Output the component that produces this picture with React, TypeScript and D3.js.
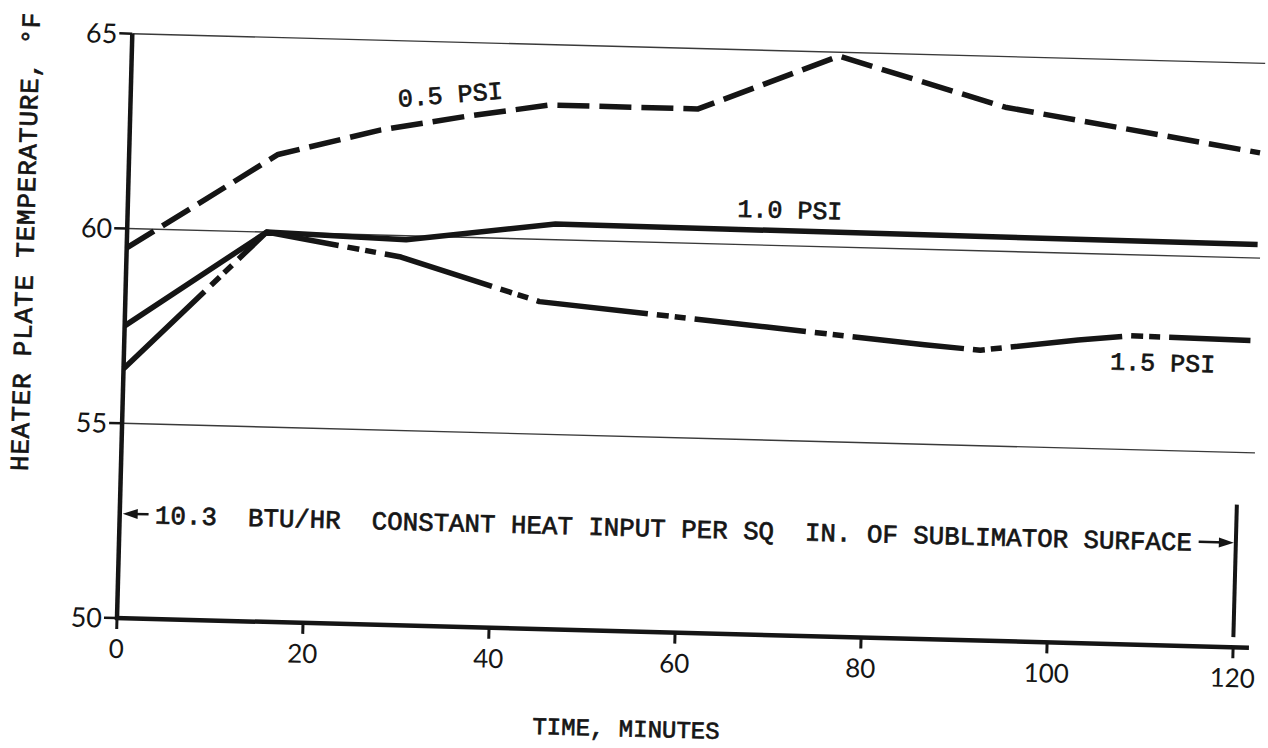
import { useRef, useEffect } from "react";
import * as d3 from "d3";

// values (minutes, deg F)
const minutes05 = [0, 16, 27, 36, 45, 61, 76, 94, 121.5];
const temps05 = [59.5, 62.0, 62.7, 63.1, 63.45, 63.45, 64.9, 63.7, 62.7];
const minutes10 = [0, 15, 30, 46, 121.5];
const temps10 = [57.5, 60.0, 59.9, 60.4, 60.35];
const minutes15 = [0, 15, 29.5, 44.5, 69, 86, 92, 102.5, 108, 121];
const temps15 = [56.4, 60.0, 59.45, 58.4, 57.9, 57.55, 57.45, 57.78, 57.92, 57.88];

const xTicks = [0, 20, 40, 60, 80, 100, 120];
const yTicks = [50, 55, 60, 65];
const gridTemps = [55, 60, 65];

const seriesNames = ["0.5 PSI", "1.0 PSI", "1.5 PSI"];
const nameMinutes = [28.8, 65.5, 106];
const nameTemps = [63.3, 60.71, 57.04];

const note = "10.3  BTU/HR  CONSTANT HEAT INPUT PER SQ  IN. OF SUBLIMATOR SURFACE";

export default function App() {
  const ref = useRef<SVGSVGElement>(null);

  useEffect(() => {
    if (!ref.current) return;
    const svg = d3.select(ref.current);
    svg.selectAll("*").remove();

    const W = 1268,
      H = 748;
    svg.attr("width", W).attr("height", H).attr("viewBox", `0 0 ${W} ${H}`);
    svg.append("rect").attr("width", W).attr("height", H).attr("fill", "#fff");

    const ink = "#151515";
    const mono = "'Liberation Mono', 'DejaVu Sans Mono', monospace";
    const sans = "Lato, 'Liberation Sans', sans-serif";

    const x = d3.scaleLinear().domain([0, 120]).range([0, 1116.5]);
    const y = d3.scaleLinear().domain([50, 65]).range([0, -584.5]);

    // the scan is tilted a little clockwise
    const g = svg.append("g").attr("transform", "translate(117,618) rotate(1.5)");

    g.selectAll("line.grid")
      .data(gridTemps)
      .join("line")
      .attr("class", "grid")
      .attr("x1", 0)
      .attr("x2", x(121.8))
      .attr("y1", (d) => y(d))
      .attr("y2", (d) => y(d))
      .attr("stroke", "#3a3a3a")
      .attr("stroke-width", 1.4);

    // axes
    g.append("line")
      .attr("x1", 0)
      .attr("x2", 0)
      .attr("y1", y(50) + 2)
      .attr("y2", y(65))
      .attr("stroke", ink)
      .attr("stroke-width", 4.5);
    g.append("line")
      .attr("x1", -2)
      .attr("x2", x(121.7))
      .attr("y1", y(50))
      .attr("y2", y(50))
      .attr("stroke", ink)
      .attr("stroke-width", 4.5);

    g.selectAll("line.ytick")
      .data(yTicks)
      .join("line")
      .attr("class", "ytick")
      .attr("x1", -13)
      .attr("x2", 0)
      .attr("y1", (d) => y(d))
      .attr("y2", (d) => y(d))
      .attr("stroke", ink)
      .attr("stroke-width", 2.5);
    g.selectAll("text.ylab")
      .data(yTicks)
      .join("text")
      .attr("class", "ylab")
      .attr("x", -15)
      .attr("y", (d) => y(d))
      .attr("dy", "0.36em")
      .attr("text-anchor", "end")
      .attr("font-family", sans)
      .attr("font-size", 27)
      .attr("fill", ink)
      .text((d) => d);

    g.selectAll("line.xtick")
      .data(xTicks)
      .join("line")
      .attr("class", "xtick")
      .attr("x1", (d) => x(d))
      .attr("x2", (d) => x(d))
      .attr("y1", 0)
      .attr("y2", 11)
      .attr("stroke", ink)
      .attr("stroke-width", 3);
    g.selectAll("text.xlab")
      .data(xTicks)
      .join("text")
      .attr("class", "xlab")
      .attr("x", (d) => x(d))
      .attr("y", 40)
      .attr("text-anchor", "middle")
      .attr("font-family", sans)
      .attr("font-size", 26)
      .attr("fill", ink)
      .text((d) => d);

    // series
    const line = d3
      .line<[number, number]>()
      .x((d) => x(d[0]))
      .y((d) => y(d[1]));
    const series = [
      { pts: d3.zip(minutes05, temps05), dash: "32 10" },
      { pts: d3.zip(minutes10, temps10), dash: null },
      { pts: d3.zip(minutes15, temps15), dash: "112 9 12 6 11 9" },
    ];
    g.selectAll("path.series")
      .data(series)
      .join("path")
      .attr("class", "series")
      .attr("d", (d) => line(d.pts as [number, number][]))
      .attr("fill", "none")
      .attr("stroke", ink)
      .attr("stroke-width", 5.5)
      .attr("stroke-linejoin", "round")
      .attr("stroke-dasharray", (d) => d.dash);

    // typewriter lettering: regular face with a thin outline to thicken it
    const typed = (sel: any, size: number) =>
      sel
        .attr("font-family", mono)
        .attr("font-size", size)
        .attr("fill", ink)
        .attr("stroke", ink)
        .attr("stroke-width", 0.7);

    typed(
      g
        .selectAll("text.sname")
        .data(seriesNames)
        .join("text")
        .attr("class", "sname")
        .attr("transform", (d, i) => {
          const tx = x(nameMinutes[i]),
            ty = y(nameTemps[i]);
          return `translate(${tx},${ty}) rotate(${i === 0 ? -6 : 0})`;
        }),
      25
    ).text((d) => d);

    // constant heat input note with its two arrows
    typed(
      g
        .append("text")
        .attr("x", x(3.8))
        .attr("y", y(52.45))
        .attr("xml:space", "preserve")
        .style("white-space", "pre"),
      25.8
    ).text(note);

    const ay = y(52.68);
    const head = (tip: number, dir: number) =>
      `M${tip},${ay} L${tip - dir * 15},${ay - 5} L${tip - dir * 15},${ay + 5} Z`;
    g.append("line")
      .attr("x1", 12)
      .attr("x2", x(3.1))
      .attr("y1", ay)
      .attr("y2", ay)
      .attr("stroke", ink)
      .attr("stroke-width", 2.5);
    g.append("path").attr("d", head(3, -1)).attr("fill", ink);
    g.append("line")
      .attr("x1", x(116))
      .attr("x2", x(120) - 10)
      .attr("y1", ay)
      .attr("y2", ay)
      .attr("stroke", ink)
      .attr("stroke-width", 2.5);
    g.append("path").attr("d", head(x(120) - 2, 1)).attr("fill", ink);
    g.append("line")
      .attr("x1", x(120))
      .attr("x2", x(120))
      .attr("y1", y(53.66))
      .attr("y2", y(50.26))
      .attr("stroke", ink)
      .attr("stroke-width", 4);

    // axis titles
    typed(
      g
        .append("text")
        .attr("x", x(55))
        .attr("y", 105)
        .attr("text-anchor", "middle"),
      24
    ).text("TIME, MINUTES");
    typed(
      g
        .append("text")
        .attr("transform", `translate(-93,${y(59.6)}) rotate(-90)`)
        .attr("text-anchor", "middle")
        .attr("letter-spacing", 0.8),
      26
    ).text("HEATER PLATE TEMPERATURE, °F");
  }, []);

  return (
    <svg
      ref={ref}
      style={{ display: "block", position: "absolute", left: 0, top: 0 }}
    />
  );
}
